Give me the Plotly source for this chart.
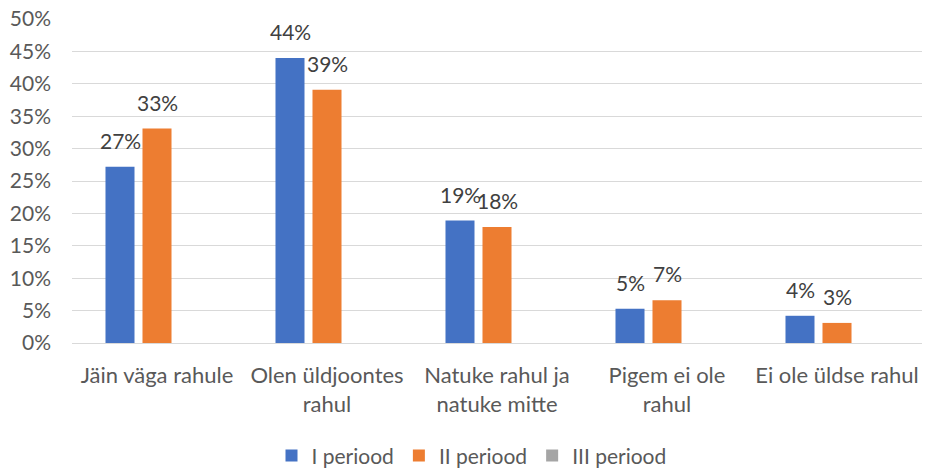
import plotly.graph_objects as go

# Survey answers and shares per period
categories = [
    "Jäin väga rahule",
    "Olen üldjoontes<br>rahul",
    "Natuke rahul ja<br>natuke mitte",
    "Pigem ei ole<br>rahul",
    "Ei ole üldse rahul",
]
series_names = ["I periood", "II periood", "III periood"]
period_1 = [0.272, 0.440, 0.189, 0.053, 0.042]
period_2 = [0.331, 0.391, 0.179, 0.066, 0.031]
period_3 = [None, None, None, None, None]
y_ticks = [i * 0.05 for i in range(11)]

colors = ["#4472C4", "#ED7D31", "#A5A5A5"]
FONT = "Lato"
BARGAP = 0.347
BARGROUPGAP = 0.216

fig = go.Figure()
for name, vals, col in zip(series_names, [period_1, period_2, period_3], colors):
    fig.add_trace(go.Bar(
        x=list(range(len(categories))), y=vals, name=name,
        marker=dict(color=col, line=dict(width=0)),
        hoverinfo="skip",
    ))

# Value labels above the bars of the first two periods
slot = (1 - BARGAP) / 3
for k, vals in enumerate([period_1, period_2]):
    offset = (k - 1) * slot
    for i, v in enumerate(vals):
        if v is None:
            continue
        fig.add_annotation(
            x=i + offset, y=v, xref="x", yref="y",
            text=f"{v:.0%}", showarrow=False,
            yanchor="bottom", yshift=12,
            font=dict(family=FONT, size=21, color="#404040"),
        )

fig.update_layout(
    width=925, height=473,
    margin=dict(l=72, r=3, t=19, b=130, autoexpand=False),
    paper_bgcolor="white", plot_bgcolor="white",
    barmode="group", bargap=BARGAP, bargroupgap=BARGROUPGAP,
    font=dict(family=FONT, size=21, color="#595959"),
    showlegend=True,
    legend=dict(
        orientation="h", x=0.47, xanchor="center",
        yref="container", y=0.036, yanchor="middle",
        font=dict(family=FONT, size=21, color="#595959"),
        itemclick=False, itemdoubleclick=False,
    ),
    xaxis=dict(
        tickmode="array", tickvals=list(range(len(categories))), ticktext=categories,
        range=[-0.5, len(categories) - 0.5], automargin=False,
        showgrid=False, zeroline=False, showline=True, linecolor="#D9D9D9", linewidth=1,
        ticks="", ticklabelstandoff=13,
        tickfont=dict(family=FONT, size=22, color="#595959"),
    ),
    yaxis=dict(
        range=[0, 0.5], tickvals=y_ticks, tickformat=".0%", automargin=False,
        showgrid=True, gridcolor="#D9D9D9", gridwidth=1,
        zeroline=False, showline=False, ticks="", ticklabelstandoff=20,
        tickfont=dict(family=FONT, size=21, color="#595959"),
    ),
)

fig.write_html("out.html")
